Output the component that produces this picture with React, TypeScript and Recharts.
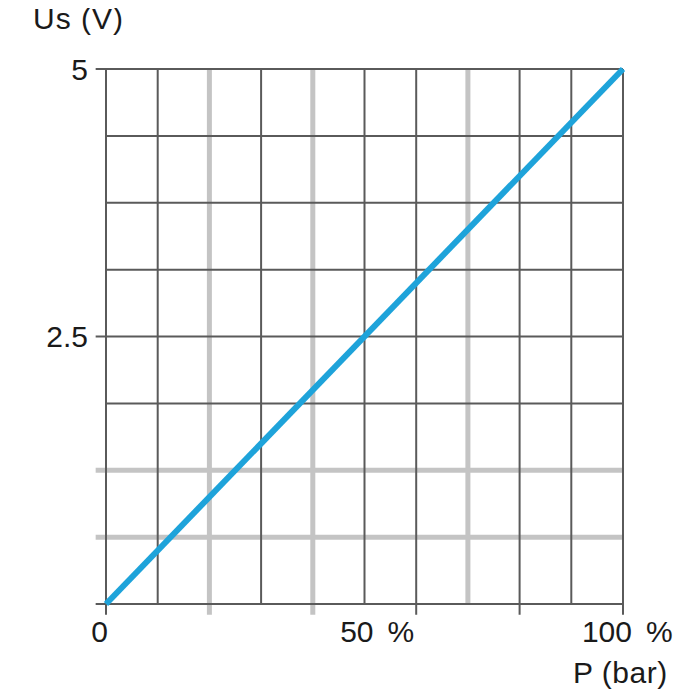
import React from 'react';
import { LineChart, Line, XAxis, YAxis, ReferenceLine } from 'recharts';

// Ausgangsspannung über Druck (linear)
const druckProzent = [0, 100];
const spannung = [0, 5];

const xGitter = [0, 10, 20, 30, 40, 50, 60, 70, 80, 90, 100];
const yGitter = [0, 0.625, 1.25, 1.875, 2.5, 3.125, 3.75, 4.375, 5];
const xGrau = [20, 40, 70];
const yGrau = [0.625, 1.25];
const xVerlaengert = [0, 20, 40, 60, 80, 100];
const yVerlaengert = [0, 0.625, 1.25, 2.5, 5];
const xBeschriftung = [0, 50, 100];
const yBeschriftung = [2.5, 5];

const daten = druckProzent.map((p, i) => ({ p, us: spannung[i] }));

const DUNKEL = '#5a5a5a';
const GRAU = '#c4c4c4';
const BLAU = '#1ea3da';
const TEXT = '#1a1a1a';
const SCHRIFT = '"Liberation Sans", Arial, sans-serif';

function XTick({ x, y, payload }: any) {
  const v = payload.value;
  const ende = v === 0 ? x + 2 : x + 9;
  return (
    <g>
      <text x={ende} y={y} dy="0.71em" textAnchor="end" fontSize={30} fill={TEXT} fontFamily={SCHRIFT}>
        {v}
      </text>
      {v !== 0 && (
        <text x={x + 23} y={y} dy="0.71em" textAnchor="start" fontSize={30} fill={TEXT} fontFamily={SCHRIFT}>
          %
        </text>
      )}
    </g>
  );
}

export default function App() {
  const gitterLinien = (grau: boolean) => [
    ...xGitter
      .filter((v) => xGrau.includes(v) === grau)
      .map((v) => (
        <ReferenceLine
          key={'x' + v}
          segment={[{ x: v, y: xVerlaengert.includes(v) ? -0.1 : 0 }, { x: v, y: 5 }]}
          stroke={grau ? GRAU : DUNKEL}
          strokeWidth={grau ? 5 : 2}
          ifOverflow="visible"
        />
      )),
    ...yGitter
      .filter((v) => yGrau.includes(v) === grau)
      .map((v) => (
        <ReferenceLine
          key={'y' + v}
          segment={[{ x: yVerlaengert.includes(v) ? -2 : 0, y: v }, { x: 100, y: v }]}
          stroke={grau ? GRAU : DUNKEL}
          strokeWidth={grau ? 5 : 2}
          ifOverflow="visible"
        />
      )),
  ];

  return (
    <div style={{ position: 'relative', width: 684, height: 684 }}>
      <LineChart width={684} height={684} data={daten} margin={{ top: 61, right: 69, bottom: 58, left: 0 }}>
        <XAxis
          dataKey="p"
          type="number"
          domain={[0, 100]}
          ticks={xBeschriftung}
          tick={<XTick />}
          tickLine={false}
          axisLine={false}
          tickSize={0}
          tickMargin={17}
          height={30}
          interval={0}
        />
        <YAxis
          type="number"
          domain={[0, 5]}
          ticks={yBeschriftung}
          tickLine={false}
          axisLine={false}
          tickSize={0}
          tickMargin={18}
          width={98}
          interval={0}
          tick={{ fontSize: 30, fill: TEXT, fontFamily: SCHRIFT }}
        />
        {gitterLinien(true)}
        {gitterLinien(false)}
        <Line
          type="linear"
          dataKey="us"
          stroke={BLAU}
          strokeWidth={6}
          dot={false}
          isAnimationActive={false}
        />
      </LineChart>
      <svg
        width={700}
        height={700}
        style={{ position: 'absolute', left: -8, top: -8, pointerEvents: 'none', overflow: 'visible' }}
      >
        <text x={33} y={29} fontSize={30} fill={TEXT} fontFamily={SCHRIFT} letterSpacing={1}>
          Us (V)
        </text>
        <text x={573} y={683} fontSize={30} fill={TEXT} fontFamily={SCHRIFT} letterSpacing={0.5}>
          P (bar)
        </text>
      </svg>
    </div>
  );
}
